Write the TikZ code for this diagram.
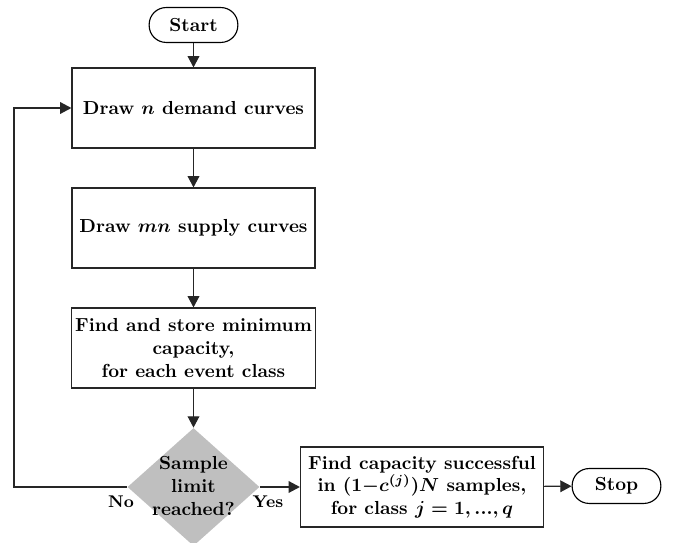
\documentclass[tikz,border=0pt]{standalone}
\usetikzlibrary{shapes.geometric,arrows.meta}
\begin{document}
\begin{tikzpicture}[x=0.53pt,y=-0.53pt,
  every node/.style={font=\bfseries\boldmath},
  procbox/.style={draw=black!85,line width=0.6pt,rectangle,minimum width=128.8pt,minimum height=42.4pt,align=center,inner sep=2pt},
  termbox/.style={draw=black,line width=0.6pt,rounded corners=9pt,minimum width=47pt,minimum height=18.5pt,inner sep=1pt},
  decbox/.style={diamond,fill=black!25,draw=none,minimum width=70pt,minimum height=62.5pt,inner sep=0pt},
  conn/.style={draw=black!85,line width=0.65pt,-{Triangle[length=6pt,width=6.2pt]}}]
\useasboundingbox (0,0) rectangle (673,543);
\node[termbox] (start) at (193.5,25) {Start};
\node[procbox] (b1) at (193.5,108) {Draw $n$ demand curves};
\node[procbox] (b2) at (193.5,228) {Draw $mn$ supply curves};
\node[procbox] (b3) at (193.5,348) {Find and store minimum\\capacity,\\for each event class};
\node[decbox] (d) at (193.5,487) {};
\node[align=center,inner sep=0pt] (dt) at (193.5,486) {Sample\\limit\\reached?};
\node[procbox] (b4) at (422,487) {Find capacity successful\\in $(1{-}c^{(j)})N$ samples,\\for class $j=1,...,q$};
\node[termbox] (stop) at (616.5,486) {Stop};
\coordinate (c1) at (14,487);
\coordinate (c2) at (14,108);
\node[font=\bfseries\small] (no) at (121,502) {No};
\node[font=\bfseries\small] (yes) at (268,502) {Yes};
\draw[conn] (start) -- (b1);
\draw[conn] (b1) -- (b2);
\draw[conn] (b2) -- (b3);
\draw[conn] (b3) -- (d);
\draw[conn] (d.west) -- (c1) -- (c2) -- (b1.west);
\draw[conn] (d.east) -- (b4.west);
\draw[conn] (b4) -- (stop);
\end{tikzpicture}
\end{document}
